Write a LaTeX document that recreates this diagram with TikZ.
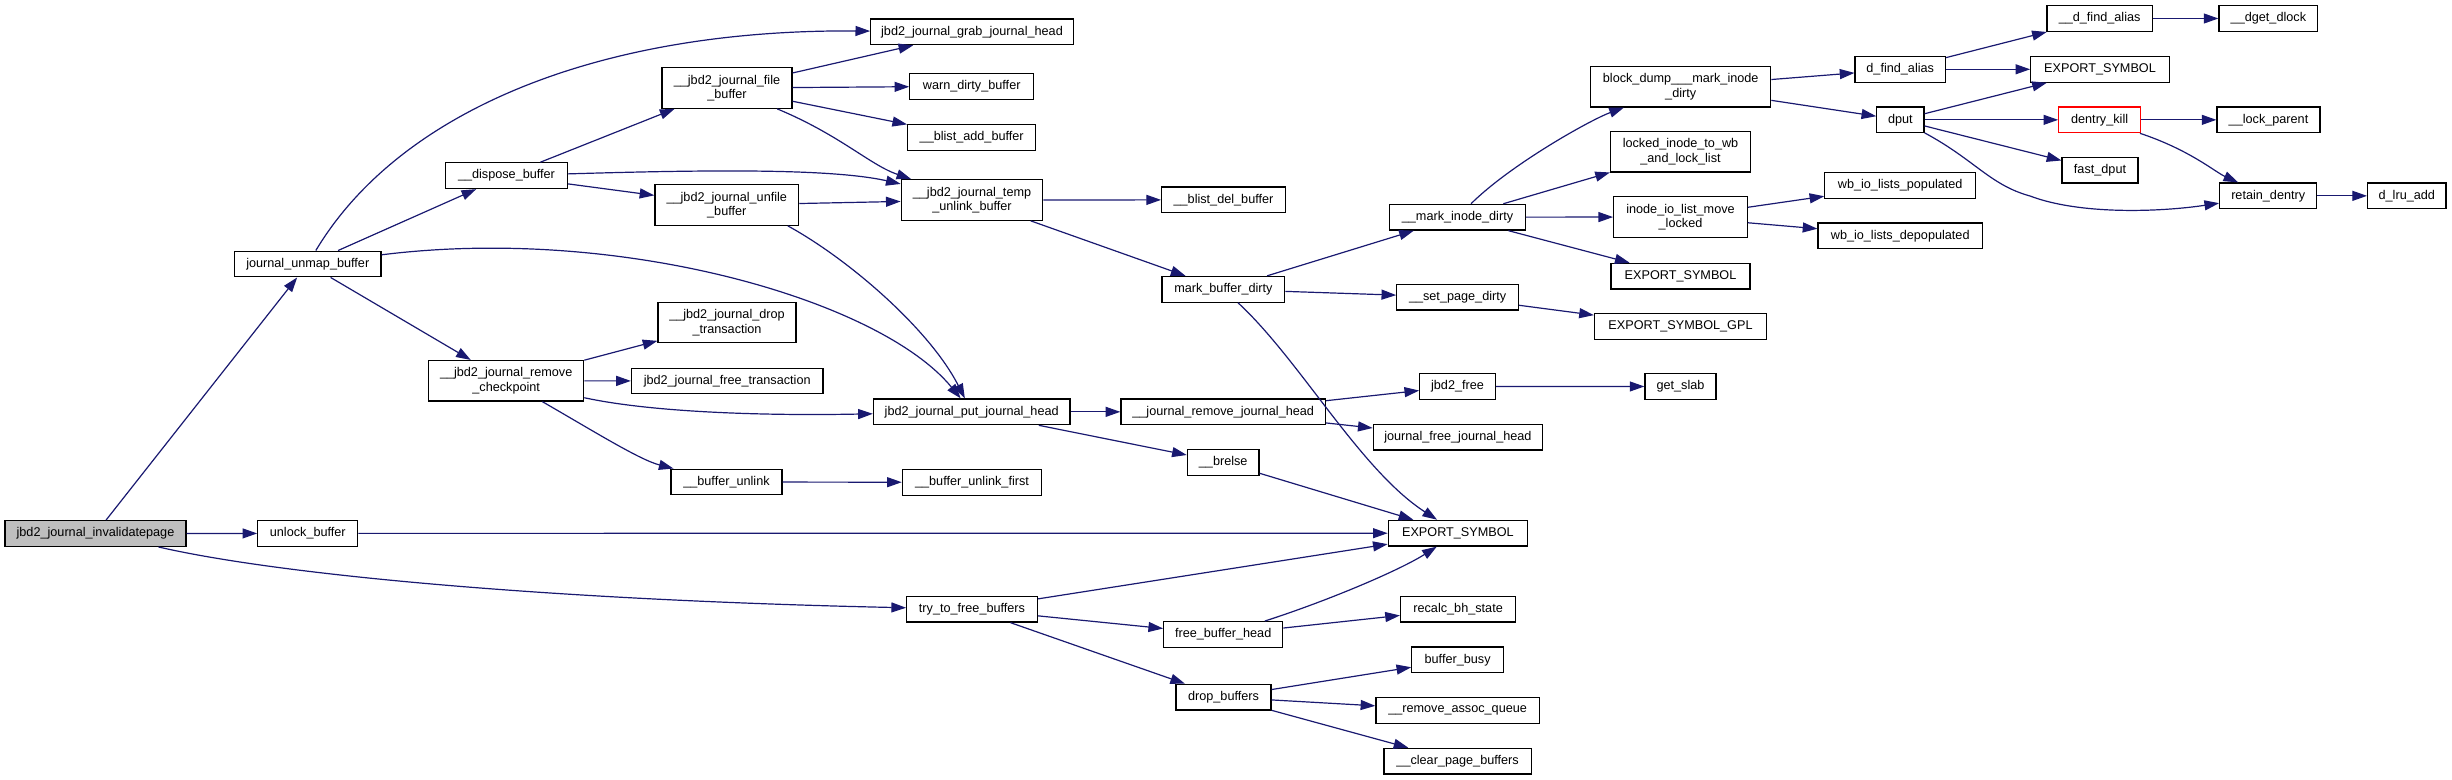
\documentclass[tikz,border=0pt]{standalone}
\usepackage{fontspec}
\setmainfont{Liberation Sans}
\usetikzlibrary{arrows.meta}
\definecolor{edgeblue}{HTML}{191970}
\definecolor{nodegray}{HTML}{BFBFBF}
\begin{document}
\begin{tikzpicture}[x=0.75pt,y=-0.75pt,
 fn/.style={draw=black,line width=0.9pt,fill=white,inner sep=0pt,font=\fontsize{9.5}{10.8}\selectfont,align=center,minimum height=19.3pt},
 two/.style={minimum height=30.4pt},
 bw/.style={minimum width=#1*0.75pt},
 e/.style={draw=edgeblue,line width=0.9pt,-{Triangle[length=11pt,width=7.5pt]}}]
\useasboundingbox (0,0) rectangle (2452,780);
% nodes
\node[fn,bw=181,fill=nodegray] (I) at (95.5,533.5) {jbd2\_journal\_invalidatepage};
\node[fn,bw=146.5] (JUB) at (307.75,264) {journal\_unmap\_buffer};
\node[fn,bw=121.7] (DB) at (506.5,175.7) {\_\_dispose\_buffer};
\node[fn,two,bw=130] (FB) at (727,88) {\_\_jbd2\_journal\_file\\\_buffer};
\node[fn,two,bw=143.7] (UB) at (726.8,205) {\_\_jbd2\_journal\_unfile\\\_buffer};
\node[fn,two,bw=138] (DT) at (727,322.5) {\_\_jbd2\_journal\_drop\\\_transaction};
\node[fn,bw=191.5] (FT) at (727.2,381) {jbd2\_journal\_free\_transaction};
\node[fn,two,bw=155] (RC) at (506.2,380.8) {\_\_jbd2\_journal\_remove\\\_checkpoint};
\node[fn,bw=111] (BU) at (726.5,482) {\_\_buffer\_unlink};
\node[fn,bw=100] (UNL) at (307.8,533.4) {unlock\_buffer};
\node[fn,bw=202.5] (GJH) at (972,31.85) {jbd2\_journal\_grab\_journal\_head};
\node[fn,bw=123.8] (WDB) at (971.7,86.3) {warn\_dirty\_buffer};
\node[fn,bw=128] (BAB) at (971.7,137.5) {\_\_blist\_add\_buffer};
\node[fn,two,bw=141.5] (TUB) at (972,200) {\_\_jbd2\_journal\_temp\\\_unlink\_buffer};
\node[fn,bw=123.7] (BDB) at (1223.5,199.85) {\_\_blist\_del\_buffer};
\node[fn,bw=122.8] (MBD) at (1223.4,289.3) {mark\_buffer\_dirty};
\node[fn,bw=135.5] (MID) at (1457.5,217.2) {\_\_mark\_inode\_dirty};
\node[fn,bw=121.6] (SPD) at (1457.6,297.2) {\_\_set\_page\_dirty};
\node[fn,bw=75.5] (JF) at (1457.5,386.4) {jbd2\_free};
\node[fn,two,bw=180] (BD) at (1680.7,86.7) {block\_dump\_\_\_mark\_inode\\\_dirty};
\node[fn,two,bw=140] (LI) at (1680.5,151.8) {locked\_inode\_to\_wb\\\_and\_lock\_list};
\node[fn,two,bw=133.6] (IIO) at (1680.5,217) {inode\_io\_list\_move\\\_locked};
\node[fn,bw=139] (ESB) at (1680.5,276.2) {EXPORT\_SYMBOL};
\node[fn,bw=172] (ESG) at (1680.5,326.5) {EXPORT\_SYMBOL\_GPL};
\node[fn,bw=71] (GS) at (1680.5,386.5) {get\_slab};
\node[fn,bw=90.3] (DFA) at (1900.2,69.3) {d\_find\_alias};
\node[fn,bw=47.2] (DPUT) at (1900.4,119.85) {dput};
\node[fn,bw=150.7] (WBP) at (1900.2,185.3) {wb\_io\_lists\_populated};
\node[fn,bw=164.4] (WBD) at (1900.2,235.8) {wb\_io\_lists\_depopulated};
\node[fn,bw=105.2] (UDFA) at (2099.6,18.5) {\_\_d\_find\_alias};
\node[fn,bw=138.5] (ESC) at (2100,69.3) {EXPORT\_SYMBOL};
\node[fn,bw=81.7,draw=red] (DK) at (2099.6,119.85) {dentry\_kill};
\node[fn,bw=76] (FD) at (2100,170.2) {fast\_dput};
\node[fn,bw=98.8] (DGD) at (2268.4,18.5) {\_\_dget\_dlock};
\node[fn,bw=103] (LP) at (2268.5,119.85) {\_\_lock\_parent};
\node[fn,bw=97] (RD) at (2268.2,195.85) {retain\_dentry};
\node[fn,bw=78.4] (DLA) at (2406.8,195.85) {d\_lru\_add};
\node[fn,bw=196.6] (PJH) at (971.7,411.85) {jbd2\_journal\_put\_journal\_head};
\node[fn,bw=204.6] (JRJH) at (1223.2,411.85) {\_\_journal\_remove\_journal\_head};
\node[fn,bw=169.3] (JFJH) at (1457.9,437.2) {journal\_free\_journal\_head};
\node[fn,bw=71.7] (BR) at (1223.2,462.3) {\_\_brelse};
\node[fn,bw=139.3] (BUF) at (972,482.3) {\_\_buffer\_unlink\_first};
\node[fn,bw=139.3] (ES) at (1457.9,533.2) {EXPORT\_SYMBOL};
\node[fn,bw=130.7] (TFB) at (972,609.2) {try\_to\_free\_buffers};
\node[fn,bw=119] (FBH) at (1223.2,634.5) {free\_buffer\_head};
\node[fn,bw=115.2] (RBS) at (1458.1,609.2) {recalc\_bh\_state};
\node[fn,bw=91.6] (BB) at (1457.6,659.85) {buffer\_busy};
\node[fn,bw=95] (DRB) at (1223.5,697.2) {drop\_buffers};
\node[fn,bw=163.4] (RAQ) at (1457.6,710.5) {\_\_remove\_assoc\_queue};
\node[fn,bw=147.2] (CPB) at (1457.6,761.2) {\_\_clear\_page\_buffers};
% edges
\draw[e] (I) -- (JUB);
\draw[e] (I) -- (UNL);
\draw[e] ([shift={(63,0)}]I.south) .. controls (280,575) and (550,600) .. (TFB);
\draw[e] (JUB) .. controls (400,110) and (600,29) .. (GJH);
\draw[e] (JUB) -- (DB);
\draw[e] (JUB) .. controls (620,225) and (880,300) .. (PJH);
\draw[e] (JUB) -- (RC);
\draw[e] (DB) -- (FB);
\draw[e] (DB) .. controls (700,170) and (830,168) .. (TUB);
\draw[e] (DB) -- (UB);
\draw[e] (FB) -- (GJH);
\draw[e] (FB) -- (WDB);
\draw[e] (FB) -- (BAB);
\draw[e] (FB) .. controls (840,135) and (870,165) .. (TUB);
\draw[e] (UB) -- (TUB);
\draw[e] ([shift={(61,0)}]UB.south) .. controls (850,260) and (930,330) .. (PJH);
\draw[e] (RC) -- (DT);
\draw[e] (RC) -- (FT);
\draw[e] (RC) .. controls (650,412) and (760,416) .. (PJH);
\draw[e] (RC) .. controls (595,432) and (640,460) .. (BU);
\draw[e] (BU) -- (BUF);
\draw[e] (UNL) -- (ES);
\draw[e] (TUB) -- (BDB);
\draw[e] (TUB) -- (MBD);
\draw[e] (MBD) -- (MID);
\draw[e] (MBD) -- (SPD);
\draw[e] (MBD) .. controls (1300,360) and (1360,470) .. (ES);
\draw[e] (MID) .. controls (1510,165) and (1590,120) .. (BD);
\draw[e] (MID) -- (LI);
\draw[e] (MID) -- (IIO);
\draw[e] (MID) -- (ESB);
\draw[e] (SPD) -- (ESG);
\draw[e] (BD) -- (DFA);
\draw[e] (BD) -- (DPUT);
\draw[e] (DFA) -- (UDFA);
\draw[e] (DFA) -- (ESC);
\draw[e] (UDFA) -- (DGD);
\draw[e] (DPUT) -- (ESC);
\draw[e] (DPUT) -- (DK);
\draw[e] (DPUT) -- (FD);
\draw[e] (DPUT) .. controls (1975,160) and (1990,185) .. (2030,196) .. controls (2080,215) and (2160,212) .. (RD);
\draw[e] (DK) -- (LP);
\draw[e] (DK) .. controls (2190,150) and (2215,172) .. (RD);
\draw[e] (RD) -- (DLA);
\draw[e] (IIO) -- (WBP);
\draw[e] (IIO) -- (WBD);
\draw[e] (PJH) -- (JRJH);
\draw[e] (PJH) -- (BR);
\draw[e] (JRJH) -- (JF);
\draw[e] (JRJH) -- (JFJH);
\draw[e] (JF) -- (GS);
\draw[e] (BR) -- (ES);
\draw[e] (TFB) -- (ES);
\draw[e] (TFB) -- (FBH);
\draw[e] (TFB) -- (DRB);
\draw[e] (FBH) .. controls (1330,600) and (1400,570) .. (ES);
\draw[e] (FBH) -- (RBS);
\draw[e] (DRB) -- (BB);
\draw[e] (DRB) -- (RAQ);
\draw[e] (DRB) -- (CPB);
\end{tikzpicture}
\end{document}
